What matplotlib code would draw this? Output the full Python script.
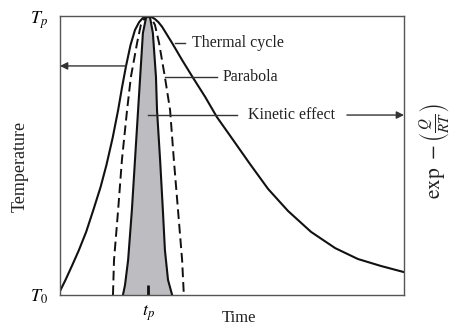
import matplotlib.pyplot as plt
import numpy as np

plt.rcParams['font.family'] = ['Liberation Serif', 'DejaVu Serif']
plt.rcParams['mathtext.fontset'] = 'stix'

# values: time axis 0..10, temperature 0 (T0) .. 1 (Tp)
tp = 2.56

cycle_t = [0.00, 0.16, 0.36, 0.55, 0.76, 0.97, 1.18, 1.35, 1.53, 1.69, 1.80, 1.92,
           2.05, 2.18, 2.30, 2.41, 2.56, 2.67, 2.76, 2.86, 2.97, 3.08, 3.26,
           3.55, 3.87, 4.22, 4.56, 5.03, 5.52, 6.05, 6.63, 7.30, 8.00, 8.66, 9.33, 10.00]
cycle_T = [0.014, 0.054, 0.108, 0.161, 0.226, 0.305, 0.387, 0.466, 0.563, 0.663, 0.742, 0.821,
           0.896, 0.950, 0.978, 0.993, 1.000, 0.996, 0.989, 0.978, 0.961, 0.939, 0.903,
           0.842, 0.778, 0.710, 0.638, 0.556, 0.470, 0.380, 0.301, 0.226, 0.168, 0.129, 0.104, 0.082]

parab_t = [1.54, 1.57, 1.69, 1.80, 1.95, 2.06, 2.24, 2.35, 2.47, 2.56,
           2.65, 2.76, 2.88, 3.05, 3.20, 3.31, 3.43, 3.55, 3.60]
parab_T = [0.0, 0.125, 0.305, 0.484, 0.663, 0.781, 0.903, 0.968, 0.993, 1.0,
           0.993, 0.968, 0.903, 0.781, 0.663, 0.484, 0.305, 0.125, 0.0]

kin_t = [1.83, 1.89, 1.98, 2.09, 2.18, 2.27, 2.33, 2.41, 2.50, 2.56,
         2.62, 2.70, 2.79, 2.82, 2.91, 2.99, 3.05, 3.14, 3.26]
kin_T = [0.0, 0.036, 0.125, 0.305, 0.484, 0.663, 0.781, 0.939, 0.993, 1.0,
         0.993, 0.939, 0.781, 0.663, 0.484, 0.305, 0.161, 0.054, 0.0]

W, H = 454, 329
fig = plt.figure(figsize=(W / 100, H / 100), dpi=100)
ax = fig.add_axes([60 / W, 1 - 295 / H, 344 / W, 279 / H])
ax.set_xlim(0, 10)
ax.set_ylim(0, 1)
for s in ax.spines.values():
    s.set_color('#555555')
    s.set_linewidth(1.0)

ax.fill(kin_t, kin_T, color='#bdbdc1', lw=0)
ax.plot(kin_t, kin_T, color='#111111', lw=1.5)
ax.plot(parab_t, parab_T, color='#111111', lw=1.4, ls=(0, (5, 2.5)))
ax.plot(cycle_t, cycle_T, color='#111111', lw=1.5)

ax.set_xticks([tp], [r'$t_p$'], fontsize=13)
ax.set_yticks([0, 1], [r'$T_0$', r'$T_p$'], fontsize=13)
ax.tick_params(axis='x', direction='in', length=7, width=2, color='#111111', pad=6)
ax.tick_params(axis='y', length=0, pad=9)

txt = dict(fontsize=11.5, va='center', color='#222222')
lc = '#333333'
# leader lines
ax.plot([3.34, 3.63], [0.903, 0.903], color=lc, lw=1)
ax.text(3.84, 0.903, 'Thermal cycle', **txt)
ax.plot([3.05, 4.56], [0.780, 0.780], color=lc, lw=1)
ax.text(4.74, 0.780, 'Parabola', **txt)
ax.plot([2.56, 5.15], [0.645, 0.645], color=lc, lw=1)
ax.text(5.47, 0.645, 'Kinetic effect', **txt)
ax.annotate('', xy=(10, 0.645), xytext=(8.34, 0.645),
            arrowprops=dict(arrowstyle='-|>', color=lc, lw=1, mutation_scale=11,
                            shrinkA=0, shrinkB=0), annotation_clip=False)
ax.annotate('', xy=(0, 0.821), xytext=(1.92, 0.821),
            arrowprops=dict(arrowstyle='-|>', color=lc, lw=1, mutation_scale=11,
                            shrinkA=0, shrinkB=0), annotation_clip=False)

fig.text(20 / W, 1 - 166 / H, 'Temperature', rotation=90, fontsize=13,
         ha='center', va='center', color='#222222')
fig.text(239 / W, 1 - 318 / H, 'Time', fontsize=12, ha='center', va='center', color='#222222')
fig.text(434 / W, 1 - 151 / H, r'$\mathrm{exp}\ -\left(\frac{Q}{RT}\right)$', rotation=90,
         fontsize=15.5, ha='center', va='center', color='#222222')

fig.savefig('out.png', dpi=100)
